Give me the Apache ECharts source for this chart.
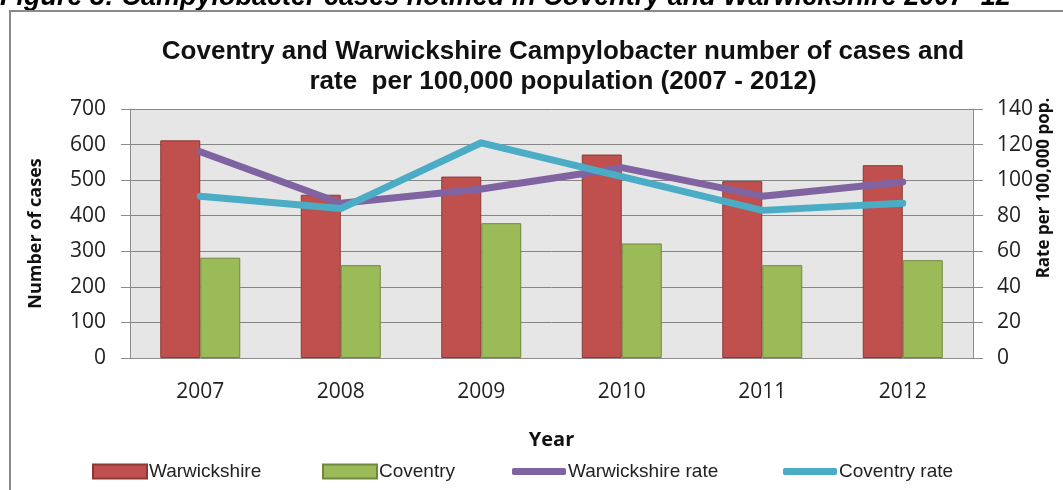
<!DOCTYPE html>
<html>
<head>
<meta charset="utf-8">
<script src="https://cdn.jsdelivr.net/npm/echarts@6/dist/echarts.min.js"></script>
<style>
  html, body { margin: 0; padding: 0; background: #fff; }
  #chart { width: 1063px; height: 490px; }
</style>
</head>
<body>
<div id="chart"></div>
<script>
// data
var years = ['2007', '2008', '2009', '2010', '2011', '2012'];
var warwickshire = [612, 459, 510, 572, 497, 542];
var coventry = [282, 261, 379, 322, 261, 275];
var warwickshireRate = [116, 87, 95, 107, 91, 99];
var coventryRate = [91, 84, 121, 102, 83, 87];

var chart = echarts.init(document.getElementById('chart'));

var tickFont = { fontFamily: 'Open Sans', fontSize: 21, color: '#222' };
var axisGrey = '#8c8c8c';
var legendText = { fontFamily: 'Liberation Sans', fontSize: 19, color: '#222', padding: [0, 0, 0, -3] };

// one legend per entry so each sits where it does in the picture
function legendAt(name, left, isLine) {
    return {
        data: [name],
        left: left, top: 457,
        itemWidth: 54,
        itemHeight: isLine ? 7 : 14,
        icon: isLine ? 'roundRect' : 'rect',
        textStyle: legendText
    };
}

var option = {
    animation: false,
    textStyle: { fontFamily: 'Open Sans' },
    // plot area
    grid: {
        left: 130, right: 90, top: 109, bottom: 132,
        show: true, backgroundColor: '#e6e6e6', borderWidth: 0
    },
    title: {
        text: 'Coventry and Warwickshire Campylobacter number of cases and\nrate  per 100,000 population (2007 - 2012)',
        left: 558, top: 32, textAlign: 'center',
        textStyle: {
            fontFamily: 'Liberation Sans', fontWeight: 'bold', fontSize: 26,
            lineHeight: 30, color: '#111'
        }
    },
    legend: [
        legendAt('Warwickshire', 87, false),
        legendAt('Coventry', 317, false),
        legendAt('Warwickshire rate', 507, true),
        legendAt('Coventry rate', 778, true)
    ],
    xAxis: {
        type: 'category',
        data: years,
        name: 'Year',
        nameLocation: 'middle',
        nameGap: 72,
        nameTextStyle: { fontFamily: 'Open Sans', fontWeight: 'bold', fontSize: 20, color: '#111' },
        axisLine: { lineStyle: { color: axisGrey } },
        axisTick: { length: 9, lineStyle: { color: axisGrey } },
        axisLabel: Object.assign({ margin: 24 }, tickFont)
    },
    yAxis: [{
        type: 'value',
        min: 0, max: 700, interval: 100,
        name: 'Number of cases',
        nameLocation: 'middle',
        nameGap: 85,
        nameTextStyle: { fontFamily: 'Open Sans', fontWeight: 'bold', fontSize: 18, color: '#111' },
        axisLine: { show: true, lineStyle: { color: axisGrey } },
        axisTick: { show: true, length: 9, lineStyle: { color: axisGrey } },
        axisLabel: Object.assign({ margin: 24 }, tickFont),
        splitLine: { lineStyle: { color: '#868686', width: 1 } }
    }, {
        type: 'value',
        min: 0, max: 140, interval: 20,
        position: 'right',
        axisLine: { show: true, lineStyle: { color: axisGrey } },
        axisTick: { show: true, length: 10, lineStyle: { color: axisGrey } },
        axisLabel: Object.assign({ margin: 24 }, tickFont),
        splitLine: { show: false }
    }],
    series: [{
        name: 'Warwickshire',
        type: 'bar',
        data: warwickshire,
        barWidth: 40,
        barGap: '0%',
        itemStyle: { color: '#c0504d', borderColor: '#8c3836', borderWidth: 1 }
    }, {
        name: 'Coventry',
        type: 'bar',
        data: coventry,
        barWidth: 40,
        itemStyle: { color: '#9bbb59', borderColor: '#71893f', borderWidth: 1 }
    }, {
        name: 'Warwickshire rate',
        type: 'line',
        yAxisIndex: 1,
        data: warwickshireRate,
        symbol: 'none',
        lineStyle: { color: '#8064a2', width: 7, cap: 'round', join: 'round' },
        itemStyle: { color: '#8064a2' }
    }, {
        name: 'Coventry rate',
        type: 'line',
        yAxisIndex: 1,
        data: coventryRate,
        symbol: 'none',
        lineStyle: { color: '#4bacc6', width: 7, cap: 'round', join: 'round' },
        itemStyle: { color: '#4bacc6' }
    }],
    graphic: [{
        // caption above the frame, cut off at the top of the picture
        type: 'text',
        left: 0, top: -16,
        style: {
            text: 'Figure 3: Campylobacter cases notified in Coventry and Warwickshire 2007 -12',
            font: 'italic bold 27px "Liberation Sans"',
            fill: '#000'
        }
    }, {
        // outer frame
        type: 'rect',
        shape: { x: 10, y: 11, width: 1100, height: 520 },
        style: { fill: null, stroke: '#8a8a8a', lineWidth: 2 },
        silent: true
    }, {
        // right axis title
        type: 'text',
        x: 1044, y: 188,
        rotation: Math.PI / 2,
        style: {
            text: 'Rate per 100,000 pop.',
            font: 'bold 17px "Open Sans"',
            fill: '#111',
            align: 'center',
            verticalAlign: 'middle'
        }
    }]
};

chart.setOption(option);
</script>
</body>
</html>
